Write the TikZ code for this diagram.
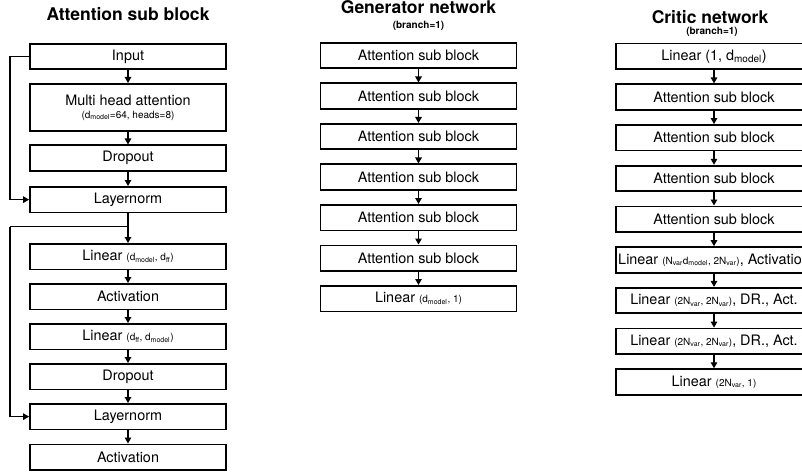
\documentclass[tikz,border=0pt]{standalone}
\usepackage{fontspec}
\setmainfont{TeX Gyre Heros}
\usetikzlibrary{arrows.meta}
\newcommand\smtxt[1]{{\fontsize{10}{11}\selectfont #1}}
\newcommand\dsb[1]{\textsubscript{#1}}
\tikzset{
  blk/.style={draw, line width=1.8pt, minimum width=196pt, minimum height=25.5pt,
    inner sep=0pt, anchor=north, font=\fontsize{14.4}{16}\selectfont},
  arr/.style={line width=1.3pt, -{Triangle[width=6.5pt,length=6pt]}},
  ttl/.style={font=\fontsize{17.5}{19}\selectfont\bfseries, anchor=base},
  subttl/.style={font=\fontsize{10}{11}\selectfont\bfseries, anchor=base},
}
\begin{document}
\begin{tikzpicture}[x=1pt,y=-1pt]
\useasboundingbox (0,0) rectangle (802,473);
\clip (0,0) rectangle (802,473);
% ---------- Attention sub block ----------
\node[ttl] (t1) at (128,21) {Attention sub block};
\node[blk] (a1) at (128,43) {Input};
\node[blk, minimum height=47pt, align=center] (a2) at (128,83)
  {Multi head attention\\[-3pt]\smtxt{(d\dsb{model}=64, heads=8)}};
\node[blk] (a3) at (128,144.5) {Dropout};
\node[blk] (a4) at (128,186) {Layernorm};
\node[blk] (a5) at (128,243) {Linear \smtxt{(d\dsb{model}, d\dsb{ff})}};
\node[blk] (a6) at (128,283) {Activation};
\node[blk] (a7) at (128,323) {Linear \smtxt{(d\dsb{ff}, d\dsb{model})}};
\node[blk] (a8) at (128,363) {Dropout};
\node[blk] (a9) at (128,403) {Layernorm};
\node[blk] (a10) at (128,443.5) {Activation};
\foreach \i/\j in {a1/a2,a2/a3,a3/a4,a4/a5,a5/a6,a6/a7,a7/a8,a8/a9,a9/a10}
  \draw[arr] (\i) -- (\j);
\coordinate (br) at (128,226.5);
\coordinate (k2) at (10,226.5);
\draw[arr] (a1.west) -- (a1.west -| k2) |- (a4.west);
\draw[arr, -{}] (br) -- (k2);
\draw[arr] (k2) |- (a9.west);
% ---------- Generator ----------
\node[ttl] (t2) at (418.5,14) {Generator network};
\node[subttl] (s2) at (418.5,28.5) {(branch=1)};
\foreach \k in {1,...,6}
  \node[blk] (g\k) at (418.5,{42+40.5*(\k-1)}) {Attention sub block};
\node[blk] (g7) at (418.5,285) {Linear \smtxt{(d\dsb{model}, 1)}};
\foreach \i/\j in {g1/g2,g2/g3,g3/g4,g4/g5,g5/g6,g6/g7}
  \draw[arr] (\i) -- (\j);
% ---------- Critic ----------
\node[ttl] (t3) at (710,24) {Critic network};
\node[subttl] (s3) at (712,35) {(branch=1)};
\node[blk] (c1) at (714,42.7) {Linear (1, d\dsb{model})};
\foreach \k in {2,...,5}
  \node[blk] (c\k) at (714,{42.7+40.7*(\k-1)}) {Attention sub block};
\node[blk] (c6) at (714,{42.7+40.7*5}) {Linear \smtxt{(N\dsb{var}d\dsb{model}, 2N\dsb{var})}, Activation};
\node[blk] (c7) at (714,{42.7+40.7*6}) {Linear \smtxt{(2N\dsb{var}, 2N\dsb{var})}, DR., Act.};
\node[blk] (c8) at (714,{42.7+40.7*7}) {Linear \smtxt{(2N\dsb{var}, 2N\dsb{var})}, DR., Act.};
\node[blk] (c9) at (714,{42.7+40.7*8}) {Linear \smtxt{(2N\dsb{var}, 1)}};
\foreach \i/\j in {c1/c2,c2/c3,c3/c4,c4/c5,c5/c6,c6/c7,c7/c8,c8/c9}
  \draw[arr] (\i) -- (\j);
\end{tikzpicture}
\end{document}
